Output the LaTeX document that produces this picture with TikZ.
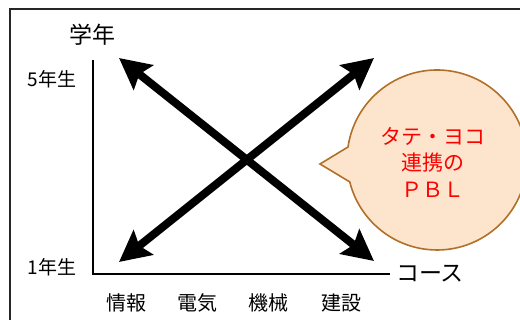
\documentclass[tikz,border=0pt]{standalone}
\usepackage{fontspec}
\newfontfamily\jp{Noto Sans CJK JP}
\usetikzlibrary{arrows.meta}
\definecolor{bubfill}{RGB}{252,229,204}
\definecolor{bubline}{RGB}{176,112,40}
\definecolor{redtxt}{RGB}{255,0,0}
\begin{document}
\begin{tikzpicture}[x=1pt,y=-1pt,
  lbl/.style={font=\jp\fontsize{19}{22}\selectfont, inner sep=0pt},
  biglbl/.style={font=\jp\fontsize{23}{26}\selectfont, inner sep=0pt},
  axisline/.style={line width=1.8pt, black},
  bigarrow/.style={line width=8pt, black,
    {Stealth[length=31pt,width=31pt,inset=5pt]}-{Stealth[length=31pt,width=31pt,inset=5pt]}},
  bubble/.style={fill=bubfill, draw=bubline, line width=1.6pt, line join=miter},
  redlbl/.style={font=\jp\fontsize{21}{26.5}\selectfont, text=redtxt, align=center, inner sep=0pt}]
\useasboundingbox (0,0) rectangle (520,320);
% frame
\draw[line width=1.8pt, black!85] (10,320) -- (10,9) -- (520,9);
% axes
\coordinate (orig) at (93,274);
\coordinate (ytop) at (93,60);
\coordinate (xend) at (390,274);
\draw[axisline] (ytop) -- (orig) -- (xend);
% axis labels
\node[biglbl] (gakunen) at (92,35) {学年};
\node[lbl] (y5) at (52,79) {5年生};
\node[lbl] (y1) at (52,267) {1年生};
\node[biglbl] (course) at (430,274) {コース};
\node[lbl,font=\jp\fontsize{20}{22}\selectfont] (c1) at (126,303) {情報};
\node[lbl,font=\jp\fontsize{20}{22}\selectfont] (c2) at (197,303) {電気};
\node[lbl,font=\jp\fontsize{20}{22}\selectfont] (c3) at (268,303) {機械};
\node[lbl,font=\jp\fontsize{20}{22}\selectfont] (c4) at (341,303) {建設};
% arrows
\coordinate (ul) at (119,58);
\coordinate (ur) at (374,58);
\coordinate (ll) at (119,262);
\coordinate (lr) at (374,261);
\draw[bigarrow] (ll) -- (ur);
\draw[bigarrow] (ul) -- (lr);
% bubble
\coordinate (bc) at (437,160);
\coordinate (btip) at (320,164);
\draw[bubble] (348,147) arc[start angle=188.3, end angle=525.9, radius=90] -- (btip) -- cycle;
\node[redlbl] (pbl) at (433,162) {タテ・ヨコ\\連携の\\ＰＢＬ};
\end{tikzpicture}
\end{document}
